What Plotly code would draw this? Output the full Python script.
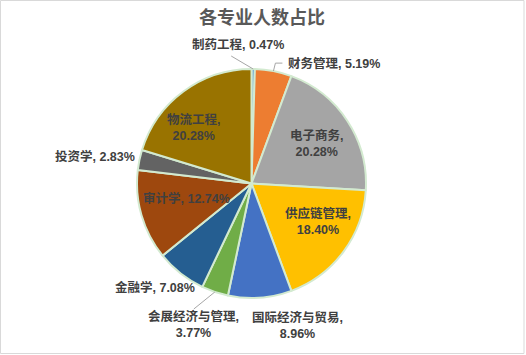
import math
import plotly.graph_objects as go

# ---- data ----
majors = ["制药工程", "财务管理", "电子商务", "供应链管理", "国际经济与贸易",
          "会展经济与管理", "金融学", "审计学", "投资学", "物流工程"]
shares = [0.47, 5.19, 20.28, 18.40, 8.96, 3.77, 7.08, 12.74, 2.83, 20.28]
colors = ["#5B9BD5", "#ED7D31", "#A5A5A5", "#FFC000", "#4472C4",
          "#70AD47", "#255E91", "#9E480E", "#636363", "#997300"]
title_text = "各专业人数占比"

# ---- layout / style ----
W, H = 526, 355
CX, CY, R = 251.5, 183.5, 114.5          # pie centre / radius in pixels
# label placement: (radius factor, dx, dy, line break?)
label_style = [
    (1.0, -15, -25, False),
    (1.0, 61, -8, False),
    (0.68, 0, 3, True),
    (0.68, 4, -8, True),
    (1.10, 37, 16, True),
    (1.0, -21, 33, True),
    (1.0, -26, 14, False),
    (0.57, -2, -3, False),
    (1.0, -44, -3, False),
    (0.72, -9, 10, True),
]
# leader lines: (slice index, list of pixel offsets from the edge point)
leaders = {0: [(0, 0), (-22, -13)], 1: [(0, 0), (2, -8), (9, -8)], 5: [(0, 0), (-21, 17)]}

def px(x):
    return x / W

def py(y):
    return 1 - y / H

fig = go.Figure(go.Pie(
    labels=majors, values=shares, sort=False, direction="clockwise", rotation=0,
    marker=dict(colors=colors, line=dict(color="#D3EAD0", width=2)),
    textinfo="none", hoverinfo="label+percent", showlegend=False,
    domain=dict(x=[px(CX - R), px(CX + R)], y=[py(CY + R), py(CY - R)]),
))

total = sum(shares)
cum = 0.0
annotations = []
shapes = []
for i, (name, v) in enumerate(zip(majors, shares)):
    mid = (cum + v / 2) / total * 2 * math.pi
    cum += v
    rf, dx, dy, br = label_style[i]
    sx, sy = math.sin(mid), -math.cos(mid)
    lx = CX + rf * R * sx + dx
    ly = CY + rf * R * sy + dy
    sep = ",<br>" if br else ", "
    annotations.append(dict(
        x=px(lx), y=py(ly), xref="paper", yref="paper", showarrow=False,
        text=f"<b>{name}{sep}{v:.2f}%</b>", align="center",
        xanchor="center", yanchor="middle",
        font=dict(family="Liberation Sans, Noto Sans CJK SC, sans-serif", size=12.5, color="#404040"),
    ))
    if i in leaders:
        ex, ey = CX + R * sx, CY + R * sy
        pts = leaders[i]
        for (a, b), (c, d) in zip(pts[:-1], pts[1:]):
            shapes.append(dict(type="line", xref="paper", yref="paper",
                               x0=px(ex + a), y0=py(ey + b), x1=px(ex + c), y1=py(ey + d),
                               line=dict(color="#A6A6A6", width=1)))

annotations.append(dict(
    x=px(262), y=py(16), xref="paper", yref="paper", showarrow=False,
    text=f"<b>{title_text}</b>", xanchor="center", yanchor="middle",
    font=dict(family="Noto Sans CJK SC, sans-serif", size=18, color="#595959"),
))
shapes.append(dict(type="rect", xref="paper", yref="paper",
                   x0=px(0.5), y0=py(353.5), x1=px(524), y1=py(0.5),
                   line=dict(color="#D9D9D9", width=1), fillcolor="rgba(0,0,0,0)"))

fig.update_layout(
    width=W, height=H, margin=dict(l=0, r=0, t=0, b=0),
    paper_bgcolor="white", plot_bgcolor="white",
    annotations=annotations, shapes=shapes,
)
fig.write_html("out.html")
